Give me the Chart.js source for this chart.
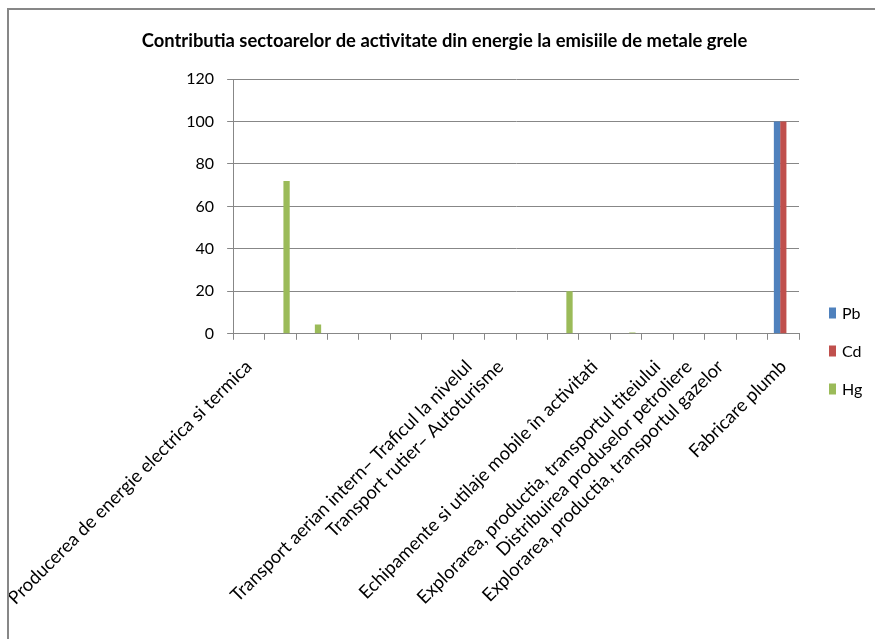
<!DOCTYPE html>
<html>
<head>
<meta charset="utf-8">
<script src="https://cdn.jsdelivr.net/npm/chart.js@4/dist/chart.umd.min.js"></script>
<style>
html,body{margin:0;padding:0;background:#fff;}
#wrap{width:875px;height:639px;position:relative;}
</style>
</head>
<body>
<div id="wrap"><canvas id="c" width="875" height="639"></canvas></div>
<script>
const categories = [
  "Producerea de energie electrica si termica", "", "", "", "", "", "",
  "Transport aerian intern– Traficul la nivelul",
  "Transport rutier– Autoturisme", "", "",
  "Echipamente si utilaje mobile în activitati", "",
  "Explorarea, productia, transportul titeiului",
  "Distribuirea produselor petroliere",
  "Explorarea, productia, transportul gazelor", "",
  "Fabricare plumb"
];
const pbValues = [0,0,0,0,0,0,0,0,0,0,0,0,0,0,0,0,0,100];
const cdValues = [0,0,0,0,0,0,0,0,0,0,0,0,0,0,0,0,0,100];
const hgValues = [0,72,4.4,0,0,0,0,0,0,0,20,0,0.6,0,0,0,0,0];
const seriesNames = ["Pb","Cd","Hg"];
const seriesColors = ["#4F81BD","#C0504D","#9BBB59"];
const yTicks = [0,20,40,60,80,100,120];
const titleText = "Contributia sectoarelor de activitate din energie la emisiile de metale grele";

const FONT = "Lato, 'Liberation Sans', sans-serif";

const framePlugin = {
  id: 'frame',
  afterDraw(chart) {
    const ctx = chart.ctx;
    ctx.save();
    ctx.strokeStyle = '#878787';
    ctx.lineWidth = 2;
    ctx.beginPath();
    ctx.moveTo(8, 639);
    ctx.lineTo(8, 9);
    ctx.lineTo(875, 9);
    ctx.stroke();
    ctx.restore();
  }
};

// Right-hand legend drawn from the datasets
const sideLegend = {
  id: 'sideLegend',
  afterDraw(chart) {
    const ctx = chart.ctx;
    const ds = chart.data.datasets;
    const x = chart.chartArea.right + 30;
    const y0 = 313, step = 38;
    ctx.save();
    ctx.font = "16px " + FONT;
    ctx.textBaseline = 'middle';
    ctx.textAlign = 'left';
    ds.forEach((d, i) => {
      const y = y0 + i * step;
      ctx.fillStyle = d.backgroundColor;
      ctx.fillRect(x, y - 5.5, 7, 11);
      ctx.fillStyle = '#000';
      ctx.fillText(d.label, x + 13, y + 1);
    });
    ctx.restore();
  }
};

new Chart(document.getElementById('c'), {
  type: 'bar',
  data: {
    labels: categories,
    datasets: [pbValues, cdValues, hgValues].map((d, i) => ({
      label: seriesNames[i],
      data: d,
      backgroundColor: seriesColors[i],
      borderWidth: 0,
      categoryPercentage: 0.6,
      barPercentage: 1.0
    }))
  },
  options: {
    responsive: false,
    animation: false,
    layout: { padding: { left: 14, right: 0, top: 30, bottom: 14 } },
    plugins: {
      title: {
        display: true,
        text: titleText,
        color: '#000',
        font: { family: FONT, size: 18.4, weight: 'bold' },
        padding: { top: 0, bottom: 27 }
      },
      legend: { display: false },
      tooltip: { enabled: false }
    },
    scales: {
      x: {
        grid: { drawOnChartArea: false, drawTicks: true, tickLength: 6, offset: true, color: '#878787' },
        border: { color: '#878787', width: 1 },
        ticks: {
          autoSkip: false, minRotation: 45, maxRotation: 45,
          color: '#000', font: { family: FONT, size: 18.4 }, padding: 16
        },
        afterFit(scale) { scale.paddingLeft = Math.max(0, scale.paddingLeft - 7); }
      },
      y: {
        min: 0, max: 120,
        afterBuildTicks(axis) { axis.ticks = yTicks.map(v => ({ value: v })); },
        grid: { color: '#878787', tickLength: 6 },
        border: { color: '#878787', width: 1 },
        ticks: { color: '#000', font: { family: FONT, size: 16 }, padding: 13 }
      },
      legendSpace: {
        type: 'linear',
        position: 'right',
        display: true,
        grid: { display: false },
        border: { display: false },
        ticks: { display: false },
        afterFit(scale) { scale.width = 76; }
      }
    }
  },
  plugins: [framePlugin, sideLegend]
});
</script>
</body>
</html>
